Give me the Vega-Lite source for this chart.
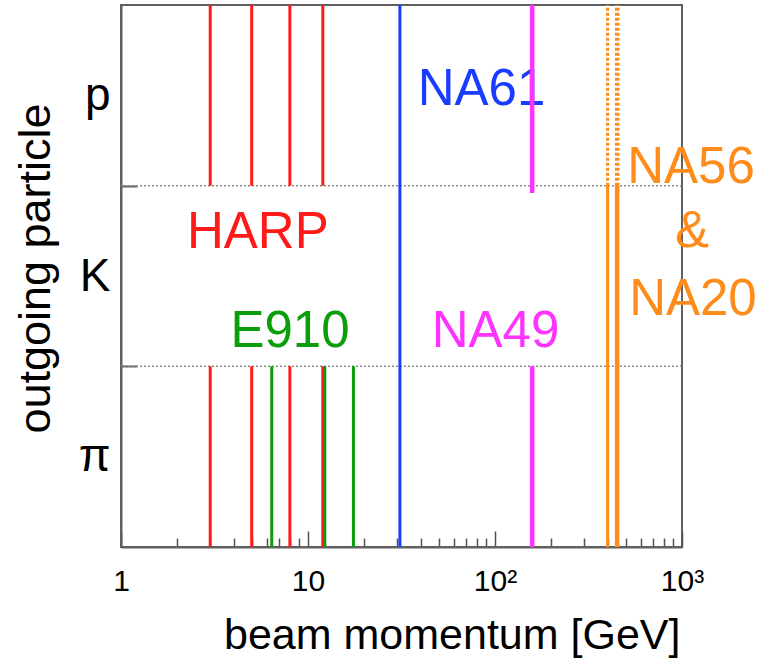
{
  "$schema": "https://vega.github.io/schema/vega-lite/v6.json",
  "width": 561,
  "height": 542,
  "autosize": {"type": "none"},
  "padding": {"left": 121, "top": 5, "right": 80, "bottom": 113},
  "background": "white",
  "config": {
    "font": "Liberation Sans",
    "view": {"stroke": "#606060", "strokeWidth": 2}
  },
  "resolve": {"axis": {"x": "independent", "y": "independent"}},
  "datasets": {
    "bounds": [{"boundary": 1}, {"boundary": 2}],
    "labels": [
      {"label": "HARP", "p": 5.39, "yy": 1.655, "exp": "HARP"},
      {"label": "E910", "p": 8.01, "yy": 1.107, "exp": "E910"},
      {"label": "NA49", "p": 100.6, "yy": 1.107, "exp": "NA49"},
      {"label": "NA61", "p": 84.7, "yy": 2.446, "exp": "NA61"},
      {"label": "NA56", "p": 1117, "yy": 2.015, "exp": "NA56"},
      {"label": "&", "p": 1131, "yy": 1.66, "exp": "NA56"},
      {"label": "NA20", "p": 1144, "yy": 1.284, "exp": "NA20"}
    ],
    "segments": [
      {"exp": "HARP", "p": 3, "ylo": 2, "yhi": 3, "mode": "solid"},
      {"exp": "HARP", "p": 5, "ylo": 2, "yhi": 3, "mode": "solid"},
      {"exp": "HARP", "p": 8, "ylo": 2, "yhi": 3, "mode": "solid"},
      {"exp": "HARP", "p": 12, "ylo": 2, "yhi": 3, "mode": "solid"},
      {"exp": "HARP", "p": 3, "ylo": 0, "yhi": 1, "mode": "solid"},
      {"exp": "HARP", "p": 5, "ylo": 0, "yhi": 1, "mode": "solid"},
      {"exp": "HARP", "p": 8, "ylo": 0, "yhi": 1, "mode": "solid"},
      {"exp": "HARP", "p": 12, "ylo": 0, "yhi": 1, "mode": "solid"},
      {"exp": "E910", "p": 6.4, "ylo": 0, "yhi": 1, "mode": "solid"},
      {"exp": "E910", "p": 12.3, "ylo": 0, "yhi": 1, "mode": "solid"},
      {"exp": "E910", "p": 17.5, "ylo": 0, "yhi": 1, "mode": "solid"},
      {"exp": "NA61", "p": 31, "ylo": 0, "yhi": 3, "mode": "solid"},
      {"exp": "NA49", "p": 158, "ylo": 1.96, "yhi": 3, "mode": "solid"},
      {"exp": "NA49", "p": 158, "ylo": 0, "yhi": 1, "mode": "solid"},
      {"exp": "NA20", "p": 400, "ylo": 2, "yhi": 3, "mode": "dotted"},
      {"exp": "NA20", "p": 400, "ylo": 0, "yhi": 2, "mode": "solid"},
      {"exp": "NA56", "p": 450, "ylo": 2, "yhi": 3, "mode": "dotted"},
      {"exp": "NA56", "p": 450, "ylo": 0, "yhi": 2, "mode": "solid"}
    ]
  },
  "layer": [
    {
      "data": {"name": "bounds"},
      "mark": {"type": "rule", "color": "#8a8a8a", "strokeDash": [2, 2], "strokeWidth": 1.5},
      "encoding": {
        "y": {
          "field": "boundary",
          "type": "quantitative",
          "scale": {"domain": [0, 3], "nice": false, "zero": false},
          "axis": {
            "orient": "left",
            "values": [1, 2],
            "labels": false,
            "tickSize": -16,
            "tickColor": "#606060",
            "tickWidth": 2,
            "domainColor": "#606060",
            "domainWidth": 2,
            "grid": false,
            "title": null
          }
        }
      }
    },
    {
      "data": {"name": "labels"},
      "mark": {"type": "text", "fontSize": 51, "align": "center", "baseline": "alphabetic", "clip": false},
      "encoding": {
        "x": {
          "field": "p",
          "type": "quantitative",
          "scale": {"type": "log", "domain": [1, 1000], "nice": false},
          "axis": {
            "orient": "bottom",
            "values": [2, 3, 4, 5, 6, 7, 8, 9, 20, 30, 40, 50, 60, 70, 80, 90, 200, 300, 400, 500, 600, 700, 800, 900],
            "labels": false,
            "tickSize": -9,
            "tickColor": "#505050",
            "tickWidth": 1.5,
            "domain": false,
            "grid": false,
            "title": null
          }
        },
        "y": {
          "field": "yy",
          "type": "quantitative",
          "axis": {
            "orient": "left",
            "values": [0.5, 1.5, 2.5],
            "labelExpr": "datum.value==2.5?'p':datum.value==1.5?'K':'π'",
            "labelFontSize": 46,
            "labelColor": "black",
            "labelPadding": 11,
            "labelOverlap": false,
            "labelFlush": false,
            "ticks": false,
            "domain": false,
            "grid": false,
            "title": "outgoing particle",
            "titleFontSize": 45,
            "titleFontWeight": "normal",
            "titleColor": "black",
            "titleX": -72,
            "titleY": 263,
            "titleAngle": -90,
            "titleAlign": "center",
            "titleBaseline": "alphabetic"
          }
        },
        "text": {"field": "label"},
        "color": {"field": "exp", "type": "nominal", "legend": null,
          "scale": {"domain": ["HARP", "E910", "NA61", "NA49", "NA20", "NA56"],
                    "range": ["#ff1a1a", "#0a9e0a", "#1a3cff", "#ff33ff", "#ff8c1a", "#ff8c1a"]}}
      }
    },
    {
      "data": {"name": "segments"},
      "mark": {"type": "rule"},
      "encoding": {
        "x": {
          "field": "p",
          "type": "quantitative",
          "axis": {
            "orient": "bottom",
            "values": [1, 10, 100, 1000],
            "labelExpr": "datum.value==1?'1':datum.value==10?'10':datum.value==100?'10²':'10³'",
            "labelFontSize": 30,
            "labelColor": "black",
            "labelPadding": 35,
            "labelOverlap": false,
            "labelFlush": false,
            "tickSize": -16,
            "tickColor": "#505050",
            "tickWidth": 1.5,
            "domainColor": "#606060",
            "domainWidth": 2,
            "grid": false,
            "title": "beam momentum [GeV]",
            "titleFontSize": 43,
            "titleFontWeight": "normal",
            "titleColor": "black",
            "titleAnchor": "end",
            "titleAlign": "right",
            "titleX": 559,
            "titleY": 101,
            "titleBaseline": "alphabetic"
          }
        },
        "y": {"field": "ylo", "type": "quantitative", "axis": null},
        "y2": {"field": "yhi"},
        "color": {"field": "exp", "type": "nominal", "legend": null},
        "strokeWidth": {"field": "exp", "type": "ordinal", "legend": null,
          "scale": {"type": "ordinal", "domain": ["HARP", "E910", "NA61", "NA49", "NA20", "NA56"], "range": [3, 3, 3, 4.5, 3, 4.5]}},
        "strokeDash": {"field": "mode", "type": "nominal", "legend": null,
          "scale": {"domain": ["solid", "dotted"], "range": [[1, 0], [3, 2]]}}
      }
    }
  ]
}
